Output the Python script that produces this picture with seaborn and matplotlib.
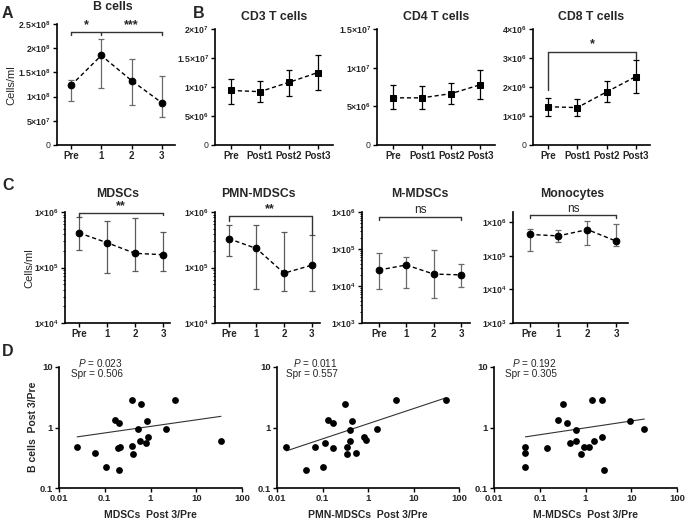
import numpy as np
import pandas as pd
import matplotlib
matplotlib.use("Agg")
import matplotlib.pyplot as plt
import seaborn as sns

sns.set_style("ticks")
plt.rcParams["font.family"] = ["Liberation Sans", "DejaVu Sans"]
plt.rcParams.update({
    "mathtext.fontset": "custom",
    "mathtext.rm": "Liberation Sans:bold",
    "mathtext.bf": "Liberation Sans:bold",
    "mathtext.it": "Liberation Sans:italic",
})

# ---------------- data ----------------
tp_short = ["Pre", "1", "2", "3"]
tp_post = ["Pre", "Post1", "Post2", "Post3"]

b_mean = [1.23e8, 1.85e8, 1.33e8, 0.87e8]
b_hi = [1.35e8, 2.18e8, 1.78e8, 1.43e8]
b_lo = [0.90e8, 1.18e8, 0.83e8, 0.57e8]

cd3_mean = [9.4e6, 9.2e6, 10.8e6, 12.5e6]
cd3_hi = [11.4e6, 11.1e6, 13.0e6, 15.6e6]
cd3_lo = [7.1e6, 7.4e6, 8.5e6, 9.5e6]

cd4_mean = [6.1e6, 6.1e6, 6.65e6, 7.8e6]
cd4_hi = [7.7e6, 7.6e6, 8.05e6, 9.7e6]
cd4_lo = [4.6e6, 4.7e6, 5.25e6, 5.95e6]

cd8_mean = [1.32e6, 1.29e6, 1.83e6, 2.36e6]
cd8_hi = [1.63e6, 1.60e6, 2.20e6, 2.94e6]
cd8_lo = [1.01e6, 0.99e6, 1.47e6, 1.78e6]

mdsc_mean = [4.2e5, 2.8e5, 1.8e5, 1.7e5]
mdsc_hi = [8.1e5, 6.8e5, 7.9e5, 4.3e5]
mdsc_lo = [2.1e5, 8.1e4, 8.5e4, 8.5e4]

pmn_mean = [3.3e5, 2.2e5, 7.9e4, 1.1e5]
pmn_hi = [5.9e5, 5.9e5, 4.4e5, 3.9e5]
pmn_lo = [1.6e5, 4.1e4, 3.8e4, 3.8e4]

mm_mean = [2.7e4, 3.7e4, 2.1e4, 2.0e4]
mm_hi = [7.6e4, 5.9e4, 9.6e4, 3.9e4]
mm_lo = [8.1e3, 9.0e3, 4.6e3, 9.5e3]

mono_mean = [4.3e5, 3.9e5, 6.0e5, 2.7e5]
mono_hi = [6.3e5, 5.7e5, 1.1e6, 8.7e5]
mono_lo = [1.4e5, 2.6e5, 2.1e5, 1.95e5]

# panel D: fold changes Post3/Pre
bcell_fc_1 = [0.47, 0.38, 0.22, 1.35, 1.2, 0.45, 0.48, 0.2, 2.9, 0.49,
              0.36, 0.93, 0.6, 2.4, 0.55, 1.28, 0.7, 0.96, 2.9, 0.6]
mdsc_fc = [0.025, 0.062, 0.108, 0.164, 0.2, 0.196, 0.22, 0.2, 0.4, 0.39,
           0.42, 0.54, 0.59, 0.62, 0.79, 0.83, 0.86, 2.2, 3.5, 34.7]

bcell_fc_2 = [0.47, 0.2, 0.48, 0.22, 0.55, 1.35, 0.45, 1.19, 2.4, 0.48,
              0.36, 0.92, 0.6, 1.28, 0.38, 0.7, 0.61, 0.96, 2.85, 2.85]
pmn_fc = [0.016, 0.0425, 0.07, 0.103, 0.113, 0.129, 0.168, 0.17, 0.32, 0.35,
          0.35, 0.4, 0.4, 0.44, 0.54, 0.8, 0.89, 1.57, 4.2, 52.0]

bcell_fc_3 = [0.47, 0.38, 0.22, 0.45, 1.35, 2.4, 1.19, 0.55, 0.92, 0.6,
              0.36, 0.48, 0.48, 2.85, 0.6, 2.85, 0.69, 0.2, 1.28, 0.96]
mm_fc = [0.0486, 0.0486, 0.0486, 0.142, 0.25, 0.33, 0.4, 0.46, 0.62, 0.62,
         0.79, 0.95, 1.2, 1.4, 1.57, 2.35, 2.35, 2.5, 9.3, 19.3]

# regression lines (end points)
fit1_x, fit1_y = [0.025, 34.7], [0.70, 1.53]
fit2_x, fit2_y = [0.016, 52.0], [0.41, 3.10]
fit3_x, fit3_y = [0.0486, 19.3], [0.70, 1.38]

stats_text = [("0.023", "0.506"), ("0.011", "0.557"), ("0.192", "0.305")]

# ---------------- figure ----------------
W, H = 685, 521
fig = plt.figure(figsize=(W / 100, H / 100), dpi=100)


def add_ax(l, t, r, b):
    return fig.add_axes([l / W, 1 - b / H, (r - l) / W, (b - t) / H])


def style_ax(ax):
    sns.despine(ax=ax)
    for s in ["left", "bottom"]:
        ax.spines[s].set_linewidth(1.2)
        ax.spines[s].set_color("black")
    ax.tick_params(axis="both", which="major", direction="out", length=3,
                   width=1.0, color="black", pad=1.5)
    ax.tick_params(axis="both", which="minor", direction="out", length=1.8,
                   width=0.7, color="black")


def sci(v):
    if v == 0:
        return "0"
    e = int(np.floor(np.log10(v) + 1e-9))
    m = v / 10 ** e
    ms = ("%g" % m)
    return r"$%s{\times}10^{%d}$" % (ms, e)


def line_panel(ax, labels, mean, lo, hi, marker, ecolor, xlim, ylim, yticks,
               log=False):
    x = np.arange(len(labels))
    mean_a, lo_a, hi_a = np.array(mean), np.array(lo), np.array(hi)
    ax.errorbar(x, mean_a, yerr=[mean_a - lo_a, hi_a - mean_a], fmt="none",
                ecolor=ecolor, elinewidth=0.9, capsize=2.3, capthick=0.9,
                zorder=2)
    df = pd.DataFrame({"x": x, "y": mean_a})
    sns.lineplot(data=df, x="x", y="y", ax=ax, color="black",
                 linestyle=(0, (3, 2)), lw=1.0, marker=marker, markersize=4.8,
                 markeredgecolor="black", markerfacecolor="black", zorder=3)
    if log:
        ax.set_yscale("log")
    ax.set_xlim(*xlim)
    ax.set_ylim(*ylim)
    ax.set_xticks(x)
    ax.set_xticklabels(labels, fontsize=7, fontweight="bold")
    ax.set_yticks(yticks)
    ax.set_yticklabels([sci(v) for v in yticks], fontsize=6.3)
    ax.set_xlabel("")
    ax.set_ylabel("")
    style_ax(ax)
    if not log:
        ax.minorticks_off()
    else:
        ax.tick_params(axis="x", which="minor", bottom=False)


def bracket(ax, x0, x1, y, drops, text, ty, bold=True, fs=9):
    ax.plot([x0, x1], [y, y], color="#333333", lw=1.0, clip_on=False,
            zorder=4)
    for xx, yd in drops:
        ax.plot([xx, xx], [y, yd], color="#333333", lw=1.0, clip_on=False,
                zorder=4)
    for tx, t in text:
        ax.text(tx, ty, t, ha="center", va="bottom", fontsize=fs,
                fontweight="bold" if bold else "normal", clip_on=False)


# ---- Row A / B ----
axA = add_ax(57, 24, 175, 145)
line_panel(axA, tp_short, b_mean, b_lo, b_hi, "o", "#6a6a6a",
           (-0.46, 3.43), (0, 2.5e8), [0, 5e7, 1e8, 1.5e8, 2e8, 2.5e8])
bracket(axA, 0, 3, 2.34e8, [(0, 2.27e8), (1, 2.27e8), (3, 2.27e8)],
        [(0.5, "*"), (2.0, "***")], 2.36e8, fs=9)

axCD3 = add_ax(215, 29, 333, 145)
line_panel(axCD3, tp_post, cd3_mean, cd3_lo, cd3_hi, "s", "black",
           (-0.55, 3.52), (0, 2e7), [0, 5e6, 1e7, 1.5e7, 2e7])

axCD4 = add_ax(377, 29, 495, 145)
line_panel(axCD4, tp_post, cd4_mean, cd4_lo, cd4_hi, "s", "black",
           (-0.55, 3.5), (0, 1.5e7), [0, 5e6, 1e7, 1.5e7])

axCD8 = add_ax(533, 29, 650, 145)
line_panel(axCD8, tp_post, cd8_mean, cd8_lo, cd8_hi, "s", "black",
           (-0.51, 3.48), (0, 4e6), [0, 1e6, 2e6, 3e6, 4e6])
bracket(axCD8, 0, 3, 3.22e6, [(0, 1.9e6), (3, 2.97e6)], [(1.5, "*")],
        3.27e6, fs=9)

# ---- Row C ----
axM = add_ax(65, 212, 170, 323)
line_panel(axM, tp_short, mdsc_mean, mdsc_lo, mdsc_hi, "o", "#5a5a5a",
           (-0.5, 3.25), (1e4, 1e6), [1e4, 1e5, 1e6], log=True)
bracket(axM, 0, 3, 9.7e5, [(0, 8.1e5), (3, 8.9e5)], [(1.5, "**")], 9.9e5,
        fs=9)

axP = add_ax(215, 212, 320, 323)
line_panel(axP, tp_short, pmn_mean, pmn_lo, pmn_hi, "o", "#5a5a5a",
           (-0.5, 3.3), (1e4, 1e6), [1e4, 1e5, 1e6], log=True)
bracket(axP, 0, 3, 8.5e5, [(0, 7.0e5), (3, 3.9e5)], [(1.5, "**")], 8.9e5,
        fs=9)

axMM = add_ax(362, 212, 470, 323)
line_panel(axMM, tp_short, mm_mean, mm_lo, mm_hi, "o", "#6a6a6a",
           (-0.62, 3.33), (1e3, 1e6), [1e3, 1e4, 1e5, 1e6], log=True)
bracket(axMM, 0, 3, 7.5e5, [(0, 6.0e5), (3, 6.0e5)], [(1.5, "ns")], 7.6e5,
        bold=False, fs=8.5)

axMo = add_ax(513, 212, 628, 323)
line_panel(axMo, tp_short, mono_mean, mono_lo, mono_hi, "o", "#6a6a6a",
           (-0.57, 3.4), (1e3, 2e6), [1e3, 1e4, 1e5, 1e6], log=True)
bracket(axMo, 0, 3, 1.6e6, [(0, 1.3e6), (3, 1.3e6)], [(1.5, "ns")], 1.62e6,
        bold=False, fs=8.5)

# ---- Row D ----
d_specs = [
    (59, 242, mdsc_fc, bcell_fc_1, fit1_x, fit1_y, "MDSCs  Post 3/Pre", 123),
    (277, 459, pmn_fc, bcell_fc_2, fit2_x, fit2_y, "PMN-MDSCs  Post 3/Pre", 338),
    (494, 677, mm_fc, bcell_fc_3, fit3_x, fit3_y, "M-MDSCs  Post 3/Pre", 557),
]
for i, (l, r, xs, ys, fx, fy, xlab, tx) in enumerate(d_specs):
    ax = add_ax(l, 367, r, 488)
    ax.set_xscale("log")
    ax.set_yscale("log")
    sns.lineplot(x=fx, y=fy, ax=ax, color="#333333", lw=0.8, zorder=2)
    sns.scatterplot(x=xs, y=ys, ax=ax, color="black", s=24, edgecolor="black",
                    linewidth=0, zorder=3)
    ax.set_xlim(0.01, 100)
    ax.set_ylim(0.1, 10)
    ax.set_xticks([0.01, 0.1, 1, 10, 100])
    ax.set_xticklabels(["0.01", "0.1", "1", "10", "100"], fontsize=6.8,
                       fontweight="bold")
    ax.set_yticks([0.1, 1, 10])
    ax.set_yticklabels(["0.1", "1", "10"], fontsize=6.8, fontweight="bold")
    style_ax(ax)
    ax.minorticks_off()
    ax.set_xlabel(xlab, fontsize=7.5, fontweight="bold", labelpad=5)
    ax.set_ylabel("")
    p, s = stats_text[i]
    fig.text(tx / W, 1 - 363 / H, r"$\mathit{P}$ = " + p, ha="right",
             va="center", fontsize=7.2)
    fig.text(tx / W, 1 - 374 / H, "Spr = " + s, ha="right", va="center",
             fontsize=7.2)

# ---- titles ----
titles = [("B cells", 113, 7), ("CD3 T cells", 274, 17),
          ("CD4 T cells", 436, 17), ("CD8 T cells", 591, 17),
          ("MDSCs", 118, 194), ("PMN-MDSCs", 258, 194),
          ("M-MDSCs", 420, 194), ("Monocytes", 572, 194)]
for t, x, y in titles:
    fig.text(x / W, 1 - y / H, t, ha="center", va="center", fontsize=8.8,
             fontweight="bold")

# ---- panel letters ----
for t, x, y in [("A", 2, 13), ("B", 193, 13), ("C", 2, 186), ("D", 2, 351)]:
    fig.text(x / W, 1 - y / H, t, ha="left", va="center", fontsize=11.5,
             fontweight="bold")

# ---- y labels ----
fig.text(11 / W, 1 - 85 / H, "Cells/ml", rotation=90, ha="center",
         va="center", fontsize=8)
fig.text(29 / W, 1 - 268 / H, "Cells/ml", rotation=90, ha="center",
         va="center", fontsize=8)
fig.text(33 / W, 1 - 427 / H, "B cells  Post 3/Pre", rotation=90,
         ha="center", va="center", fontsize=7.5, fontweight="bold")

fig.savefig("out.png", dpi=100)
